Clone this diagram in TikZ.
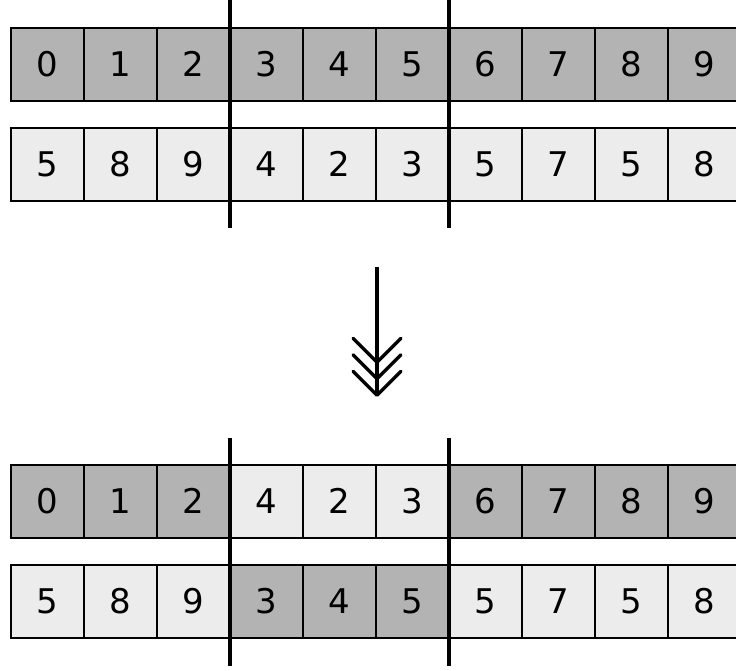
\documentclass[tikz,border=0pt]{standalone}
\usepackage{fontspec}
\setsansfont{DejaVu Sans}
\usetikzlibrary{arrows.meta}
\definecolor{oscuro}{RGB}{179,179,179}
\definecolor{claro}{RGB}{236,236,236}
\begin{document}
\begin{tikzpicture}
  [x=1pt,y=-1pt,every node/.style={draw=black,line width=1.8pt,minimum size=73pt,inner sep=0pt,
   text height=24.8pt,text depth=0pt,font=\sffamily\fontsize{34}{40}\selectfont},
   osc/.style={fill=oscuro},clr/.style={fill=claro},
   corte/.style={line width=4.5pt}]
  \useasboundingbox (0,0) rectangle (736,671);
  \clip (0,0) rectangle (736,671);

  % Padres
  \foreach \v [count=\i from 0] in {0,1,2,3,4,5,6,7,8,9}
    \node[osc] (a\i) at (47.5+73*\i,64.5) {\v};
  \foreach \v [count=\i from 0] in {5,8,9,4,2,3,5,7,5,8}
    \node[clr] (b\i) at (47.5+73*\i,164.5) {\v};

  % Hijos tras el cruce
  \foreach \v/\s [count=\i from 0] in {0/osc,1/osc,2/osc,4/clr,2/clr,3/clr,6/osc,7/osc,8/osc,9/osc}
    \node[\s] (c\i) at (47.5+73*\i,501.5) {\v};
  \foreach \v/\s [count=\i from 0] in {5/clr,8/clr,9/clr,3/osc,4/osc,5/osc,5/clr,7/clr,5/clr,8/clr}
    \node[\s] (d\i) at (47.5+73*\i,601.5) {\v};

  % Puntos de corte
  \coordinate (s1) at (230,0);   \coordinate (i1) at (230,228);
  \coordinate (s2) at (449,0);   \coordinate (i2) at (449,228);
  \coordinate (s3) at (230,438); \coordinate (i3) at (230,666);
  \coordinate (s4) at (449,438); \coordinate (i4) at (449,666);
  \draw[corte] (s1) -- (i1);
  \draw[corte] (s2) -- (i2);
  \draw[corte] (s3) -- (i3);
  \draw[corte] (s4) -- (i4);

  % Flecha
  \coordinate (f1) at (377,267);
  \coordinate (f2) at (377,397);
  \draw[line width=3.5pt,-{Straight Barb[round,length=24pt,width=48pt,sep=-11pt]Straight Barb[round,length=24pt,width=48pt,sep=-11pt]Straight Barb[round,length=24pt,width=48pt]}] (f1) -- (f2);

\end{tikzpicture}
\end{document}
